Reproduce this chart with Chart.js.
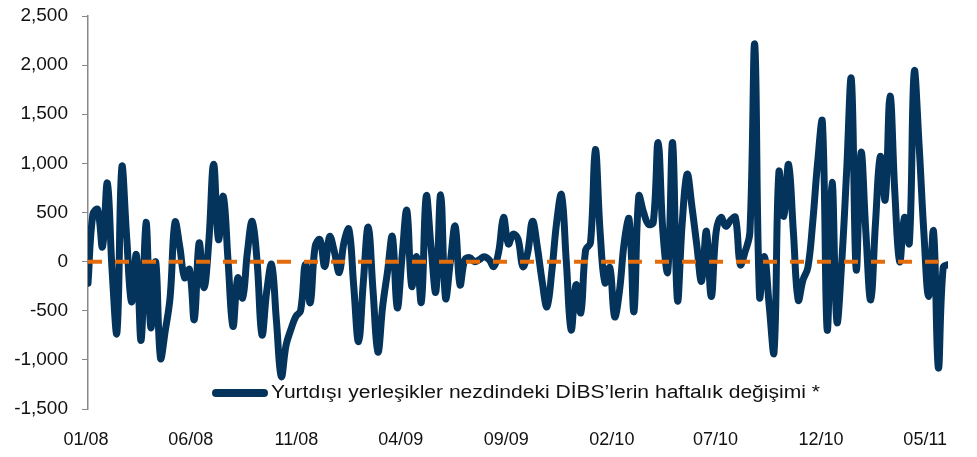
<!DOCTYPE html>
<html>
<head>
<meta charset="utf-8">
<script src="https://cdn.jsdelivr.net/npm/chart.js@4.4.1/dist/chart.umd.min.js"></script>
<style>
  html, body { margin: 0; padding: 0; background: #fff; }
  #wrap { position: relative; width: 977px; height: 457px; }
  #legend {
    position: absolute; left: 212px; top: 382px;
    display: flex; align-items: center;
    font-family: "Liberation Sans", Arial, sans-serif; font-size: 18px; color: #111;
    white-space: nowrap;
  }
  #legend .swatch { width: 56px; height: 8px; border-radius: 4px; background: #04345c; margin-right: 3px; }
  #legend #legendText { display: inline-block; transform: scaleX(1.17); transform-origin: left center; }
</style>
</head>
<body>
<div id="wrap">
  <canvas id="chart" width="977" height="457"></canvas>
  <div id="legend"><span class="swatch"></span><span id="legendText"></span></div>
</div>
<script>
// weekly change, millions of TL, first week = 04.01.2008
const seriesName = 'Yurtdışı yerleşikler nezdindeki DİBS’lerin haftalık değişimi *';
const firstWeek = [2008, 0, 4];
const weeklyChange = [
  -220, 480, 530, 150, 800, -100, -720, 960, 250, -410,
  70, -800, 400, -670, 0, -980, -700, -360, 400, 150,
  -165, -80, -590, 190, -265, 200, 990, 225, 665, 0,
  -660, -165, -370, 100, 410, 0, -745, -300, -30, -600,
  -1170, -850, -690, -560, -500, -30, -420, 150, 225, -50,
  255, 100, -110, 200, 330, -250, -815, -200, 350, -300,
  -920, -450, -100, 255, -470, 50, 520, -250, 50, -410,
  665, 150, -305, 680, -370, 0, 360, -235, 20, 40,
  0, 20, 50, 20, -50, 100, 450, 180, 280, 230,
  -50, 90, 410, 150, -200, -460, -100, 400, 680, 0,
  -695, -235, -520, 120, 190, 1140, 300, -215, -60, -560,
  -300, 200, 430, -510, 665, 500, 380, 400, 1210, 300,
  -100, 1210, -390, 400, 890, 560, 170, -200, 310, -355,
  300, 450, 360, 420, 450, -30, 100, 300, 2210, -355,
  50, -450, -920, 910, 460, 990, 300, -390, -185, -60,
  400, 1000, 1420, -695, 805, -610, -10, 900, 1855, -80,
  1110, 300, -390, 400, 1070, 630, 1685, 700, 0, 450,
  190, 1930, 1200, 300, -355, 310, -1080, -60, -30
];
const tickLabels = ['01/08', '06/08', '11/08', '04/09', '09/09', '02/10', '07/10', '12/10', '05/11'];
const yMin = -1500, yMax = 2500, yStep = 500;

// x positions as days since 01.01.2008
const DAY = 86400000;
const origin = Date.UTC(2008, 0, 1);
const start = (Date.UTC(...firstWeek) - origin) / DAY;
const weekDays = weeklyChange.map((_, i) => start + 7 * i);
const tickDays = tickLabels.map(l => {
  const [m, y] = l.split('/');
  return (Date.UTC(2000 + Number(y), Number(m) - 1, 1) - origin) / DAY;
});

document.getElementById('legendText').textContent = seriesName;

Chart.defaults.font.family = '"Liberation Sans", Arial, sans-serif';
Chart.defaults.color = '#111';

new Chart(document.getElementById('chart'), {
  type: 'line',
  data: {
    datasets: [
      {
        label: 'zero',
        data: weekDays.map(d => ({ x: d, y: 0 })),
        borderColor: '#e46c0a',
        borderWidth: 4,
        borderDash: [14, 13],
        pointRadius: 0,
        tension: 0,
        order: 0
      },
      {
        label: seriesName,
        data: weekDays.map((d, i) => ({ x: d, y: weeklyChange[i] })),
        borderColor: '#04345c',
        borderWidth: 7,
        borderCapStyle: 'round',
        borderJoinStyle: 'round',
        pointRadius: 0,
        tension: 0.4,
        order: 1
      }
    ]
  },
  options: {
    responsive: false,
    animation: false,
    devicePixelRatio: 1,
    layout: { padding: { left: 0, right: 29, top: 16, bottom: 0 } },
    plugins: { legend: { display: false }, tooltip: { enabled: false } },
    scales: {
      x: {
        type: 'linear',
        min: weekDays[0],
        max: weekDays[weekDays.length - 1],
        afterBuildTicks: axis => { axis.ticks = tickDays.map(v => ({ value: v })); },
        afterFit: axis => { axis.height = 48; },
        grid: { display: false, drawTicks: false },
        border: { display: false },
        ticks: {
          autoSkip: false,
          maxRotation: 0,
          padding: 20,
          font: { size: 18 },
          callback: v => tickLabels[tickDays.indexOf(v)] || ''
        }
      },
      y: {
        min: yMin,
        max: yMax,
        afterFit: axis => { axis.width = 88; axis.paddingTop = 0; axis.paddingBottom = 0; },
        grid: { drawOnChartArea: false, drawTicks: true, tickLength: 6, color: '#888', lineWidth: 1 },
        border: { display: true, color: '#888', width: 1.5 },
        ticks: {
          stepSize: yStep,
          padding: 14,
          font: { size: 19 },
          callback: v => v.toLocaleString('en-US')
        }
      }
    }
  }
});
</script>
</body>
</html>
